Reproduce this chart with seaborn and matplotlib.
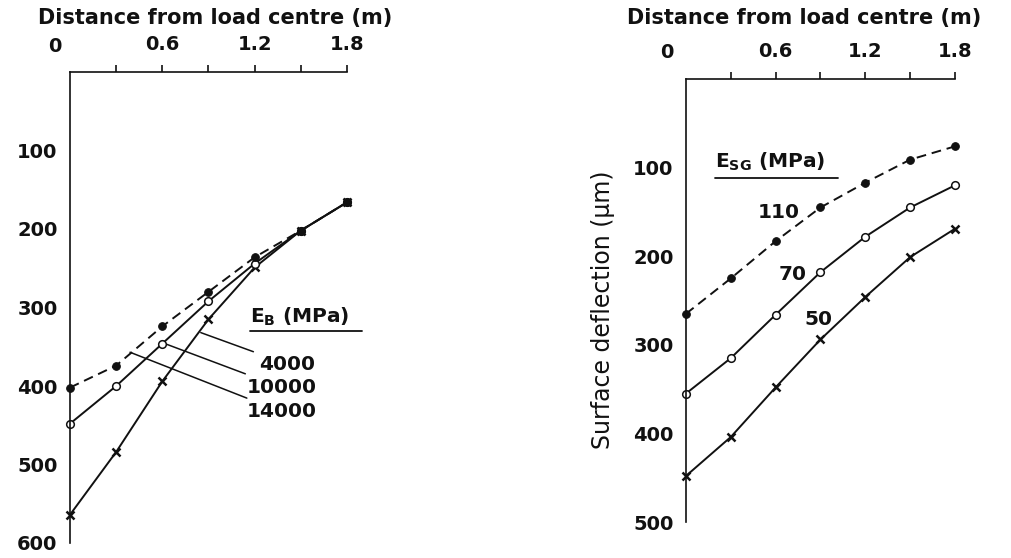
import numpy as np
import pandas as pd
import matplotlib
matplotlib.use("Agg")
import matplotlib.pyplot as plt
import matplotlib.transforms as mtransforms
import seaborn as sns

# ---- data ----
distance = [0.0, 0.3, 0.6, 0.9, 1.2, 1.5, 1.8]

# left panel: base modulus E_B (MPa)
eb_labels = ["4000", "10000", "14000"]
eb_4000 = [564, 484, 394, 315, 249, 202, 166]
eb_10000 = [448, 400, 346, 292, 244, 202, 166]
eb_14000 = [402, 374, 324, 280, 236, 202, 166]

# right panel: subgrade modulus E_SG (MPa)
esg_labels = ["110", "70", "50"]
esg_110 = [265, 225, 183, 145, 117, 91, 76]
esg_70 = [355, 315, 266, 218, 178, 145, 120]
esg_50 = [448, 404, 348, 294, 246, 201, 169]

x_ticks = [0.3, 0.6, 0.9, 1.2, 1.5, 1.8]
x_ticklabels = ["", "0.6", "", "1.2", "", "1.8"]
left_yticks = [100, 200, 300, 400, 500, 600]
right_yticks = [100, 200, 300, 400, 500]

sns.set_theme(style="white")
plt.rcParams["font.family"] = ["DejaVu Sans"]
plt.rcParams["mathtext.fontset"] = "dejavusans"

fig = plt.figure(figsize=(10.12, 5.58), dpi=100)
axL = fig.add_axes([70 / 1012, 1 - 543 / 558, 277 / 1012, 471 / 558])
axR = fig.add_axes([686 / 1012, 1 - 522 / 558, 269 / 1012, 443 / 558])

INK = "#111111"
dash = (0, (5, 3))
TICK_FS = 14
ANN_FS = 14.5
TITLE_FS = 15


def draw_series(ax, y, kind):
    df = pd.DataFrame({"x": distance, "y": y})
    if kind == "filled":
        sns.lineplot(data=df, x="x", y="y", ax=ax, color=INK, lw=1.4,
                     linestyle=dash, marker="o", markersize=5.5,
                     markerfacecolor=INK, markeredgecolor=INK, clip_on=False)
    elif kind == "open":
        sns.lineplot(data=df, x="x", y="y", ax=ax, color=INK, lw=1.4,
                     marker="o", markersize=5.5, markerfacecolor="white",
                     markeredgecolor=INK, markeredgewidth=1.1, clip_on=False)
    else:
        sns.lineplot(data=df, x="x", y="y", ax=ax, color=INK, lw=1.4,
                     marker="x", markersize=6, markeredgewidth=1.8,
                     markeredgecolor=INK, clip_on=False)


draw_series(axL, eb_4000, "cross")
draw_series(axL, eb_10000, "open")
draw_series(axL, eb_14000, "filled")

draw_series(axR, esg_110, "filled")
draw_series(axR, esg_70, "open")
draw_series(axR, esg_50, "cross")


def style_axis(ax, ymax, yticks, zero_offset, zero_y, title_x, title_y):
    ax.set_xlim(0, 1.8)
    ax.set_ylim(ymax, 0)
    for s in ["right", "bottom"]:
        ax.spines[s].set_visible(False)
    for s in ["left", "top"]:
        ax.spines[s].set_color(INK)
        ax.spines[s].set_linewidth(1.2)
    ax.xaxis.tick_top()
    ax.set_xticks(x_ticks)
    ax.set_xticklabels(x_ticklabels)
    ax.set_yticks(yticks)
    ax.set_yticklabels([str(v) for v in yticks])
    ax.tick_params(axis="x", direction="out", length=5, width=1.2, pad=8,
                   colors=INK, labelsize=TICK_FS)
    ax.tick_params(axis="y", direction="in", length=7, width=1.2, pad=9,
                   colors=INK, labelsize=TICK_FS)
    for lab in ax.get_xticklabels() + ax.get_yticklabels():
        lab.set_fontweight("bold")
    ax.set_xlabel("")
    ax.set_ylabel("")
    ax.grid(False)
    ax.set_facecolor("white")
    # "0" label sits slightly left of the corner, as in the original
    trans = mtransforms.blended_transform_factory(ax.transData, ax.transAxes)
    ax.text(zero_offset, zero_y, "0", transform=trans, ha="center", va="bottom",
            fontsize=TICK_FS, fontweight="bold", color=INK)
    ax.text(title_x, title_y, "Distance from load centre (m)", transform=ax.transAxes,
            ha="center", va="center", fontsize=TITLE_FS, fontweight="bold", color=INK)


style_axis(axL, 600, left_yticks, -0.1, 1 + (73 - 57) / 471, 0.523, 1.115)
style_axis(axR, 500, right_yticks, -0.127, 1 + (79 - 62) / 443, 0.439, 1.138)

# ---- left panel annotations ----
axL.text(1.17, 312, r"E$_{\mathregular{B}}$ (MPa)", ha="left", va="center",
         fontsize=ANN_FS, fontweight="bold", color=INK)
axL.plot([1.17, 1.90], [330, 330], color=INK, lw=1.3, clip_on=False)
leader = dict(arrowstyle="-", color=INK, lw=1.1, shrinkA=2, shrinkB=0)
axL.annotate(eb_labels[0], xy=(0.85, 332), xytext=(1.23, 372), ha="left", va="center",
             fontsize=ANN_FS, fontweight="bold", color=INK, arrowprops=leader,
             annotation_clip=False)
axL.annotate(eb_labels[1], xy=(0.63, 347), xytext=(1.15, 402), ha="left", va="center",
             fontsize=ANN_FS, fontweight="bold", color=INK, arrowprops=leader,
             annotation_clip=False)
axL.annotate(eb_labels[2], xy=(0.39, 357), xytext=(1.15, 433), ha="left", va="center",
             fontsize=ANN_FS, fontweight="bold", color=INK, arrowprops=leader,
             annotation_clip=False)

# ---- right panel annotations ----
axR.text(0.194, 94, r"E$_{\mathregular{SG}}$ (MPa)", ha="left", va="center",
         fontsize=ANN_FS, fontweight="bold", color=INK)
axR.plot([0.194, 1.017], [112, 112], color=INK, lw=1.3, clip_on=False)
axR.text(0.622, 151, esg_labels[0], ha="center", va="center", fontsize=ANN_FS,
         fontweight="bold", color=INK)
axR.text(0.716, 221, esg_labels[1], ha="center", va="center", fontsize=ANN_FS,
         fontweight="bold", color=INK)
axR.text(0.883, 272, esg_labels[2], ha="center", va="center", fontsize=ANN_FS,
         fontweight="bold", color=INK)

axR.set_ylabel("Surface deflection (μm)", fontsize=17, color=INK)
axR.yaxis.set_label_coords(-0.265, 0.479)

fig.savefig("out.png", dpi=100, facecolor="white")
